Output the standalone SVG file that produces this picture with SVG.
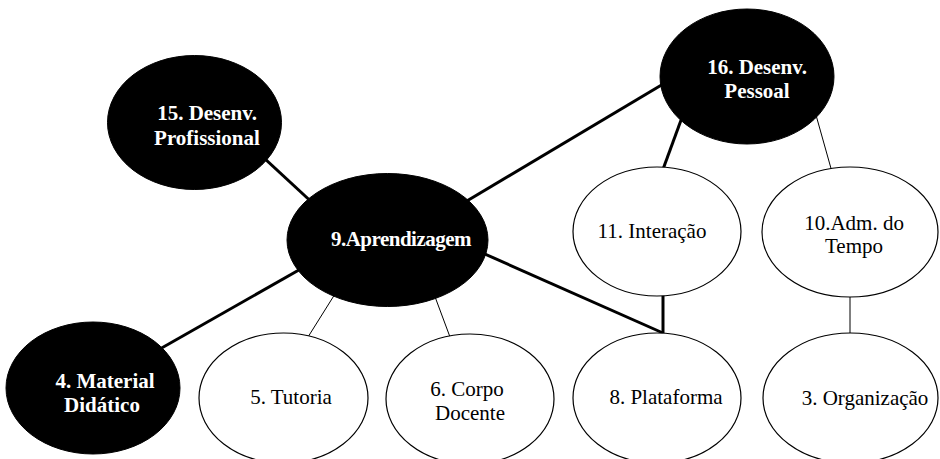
<svg xmlns="http://www.w3.org/2000/svg" width="940" height="459" viewBox="0 0 940 459">
<style>
.thick{stroke:#000;stroke-width:3;fill:none}
.thin{stroke:#000;stroke-width:1;fill:none}
.dark{fill:#000;stroke:#000;stroke-width:1}
.light{fill:#fff;stroke:#000;stroke-width:1.2}
.tb{font-family:"Liberation Serif","Times New Roman",serif;font-size:21px;font-weight:bold;fill:#fff;text-anchor:middle}
.tn{font-family:"Liberation Serif","Times New Roman",serif;font-size:21px;fill:#000;text-anchor:middle}
</style>
<rect width="940" height="459" fill="#fff"/>
<g id="connectors">
<line class="thick" x1="250" y1="145" x2="330" y2="219"/>
<line class="thick" x1="440" y1="217" x2="690" y2="68"/>
<line class="thick" x1="130" y1="366" x2="320" y2="258"/>
<line class="thick" x1="460" y1="243" x2="663" y2="333"/>
<line class="thick" x1="663" y1="290" x2="663" y2="333"/>
<line class="thick" x1="684" y1="112" x2="662" y2="172"/>
<line class="thin" x1="814" y1="108" x2="832" y2="172"/>
<line class="thin" x1="340" y1="286" x2="308" y2="337"/>
<line class="thin" x1="431" y1="286" x2="450" y2="337"/>
<line class="thin" x1="850" y1="290" x2="850" y2="337"/>
</g>
<g id="n15">
<ellipse class="dark" cx="194.5" cy="122.5" rx="87" ry="67"/>
<text class="tb" x="207" y="120">15. Desenv.</text>
<text class="tb" x="207" y="145">Profissional</text>
</g>
<g id="n16">
<ellipse class="dark" cx="747" cy="76.5" rx="87" ry="67.5"/>
<text class="tb" x="757" y="74">16. Desenv.</text>
<text class="tb" x="757" y="98">Pessoal</text>
</g>
<g id="n9">
<ellipse class="dark" cx="387.5" cy="240" rx="100.5" ry="66.5"/>
<text class="tb" x="401" y="246" letter-spacing="-0.5">9.Aprendizagem</text>
</g>
<g id="n4">
<ellipse class="dark" cx="93" cy="388" rx="87" ry="66"/>
<text class="tb" x="105" y="388">4. Material</text>
<text class="tb" x="102" y="412">Didático</text>
</g>
<g id="n11">
<ellipse class="light" cx="657" cy="231.5" rx="84" ry="64.5"/>
<text class="tn" x="652" y="238">11. Interação</text>
</g>
<g id="n10">
<ellipse class="light" cx="850" cy="232" rx="88" ry="65"/>
<text class="tn" x="854" y="230">10.Adm. do</text>
<text class="tn" x="854" y="253">Tempo</text>
</g>
<g id="n5">
<ellipse class="light" cx="283.5" cy="398" rx="84.5" ry="65"/>
<text class="tn" x="291" y="404">5. Tutoria</text>
</g>
<g id="n6">
<ellipse class="light" cx="470" cy="399" rx="84" ry="65"/>
<text class="tn" x="467" y="396">6. Corpo</text>
<text class="tn" x="470" y="420">Docente</text>
</g>
<g id="n8">
<ellipse class="light" cx="657" cy="398" rx="84" ry="65"/>
<text class="tn" x="666" y="404">8. Plataforma</text>
</g>
<g id="n3">
<ellipse class="light" cx="850.5" cy="398" rx="87.5" ry="65"/>
<text class="tn" x="865" y="405">3. Organização</text>
</g>
</svg>
